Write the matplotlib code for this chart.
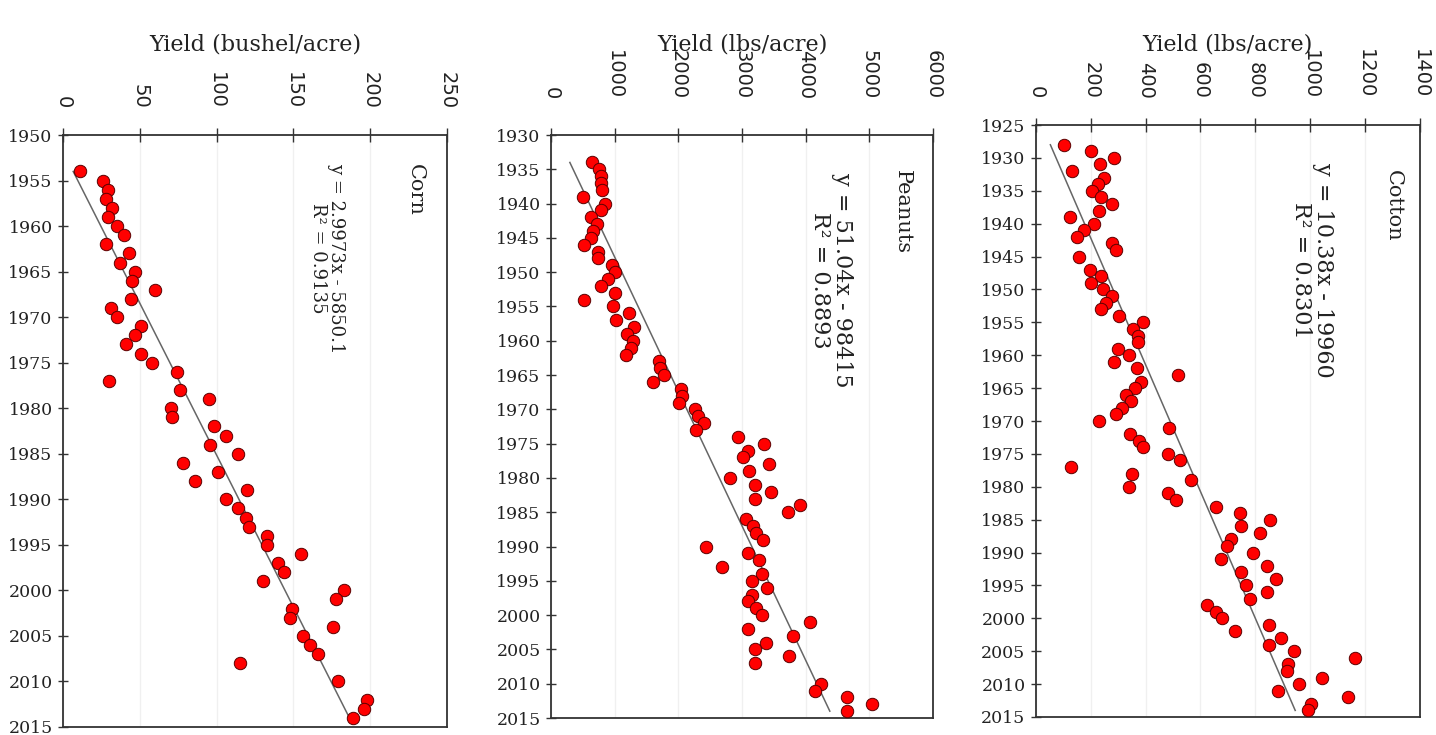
import numpy as np
import matplotlib
matplotlib.use("Agg")
from matplotlib import pyplot as plt
from matplotlib import transforms

# ---- data ----
corn_years = list(range(1954, 2009)) + [2010, 2012, 2013, 2014]
corn_yield = [11, 26, 29, 28, 32, 29, 35, 40, 28, 43, 37, 47, 45, 60, 44, 31, 35, 51, 47, 41,
              51, 58, 74, 30, 76, 95, 70, 71, 98, 106, 96, 114, 78, 101, 86, 120, 106, 114, 119, 121,
              133, 133, 155, 140, 144, 130, 183, 178, 149, 148, 176, 156, 161, 166, 115,
              179, 198, 196, 189]
corn_fit = (2.9973, -5850.1, 0.9135)

peanut_years = list(range(1934, 2008)) + [2010, 2011, 2012, 2013, 2014]
peanut_yield = [639, 759, 780, 780, 806, 508, 848, 785, 628, 717, 665, 628, 523, 733, 733, 963,
                1005, 900, 785, 1005, 523, 979, 1225, 1015, 1303, 1188, 1293, 1251, 1172, 1695,
                1711, 1774, 1596, 2036, 2051, 2015, 2261, 2313, 2402, 2276, 2941, 3344, 3098, 3019,
                3427, 3108, 2810, 3203, 3454, 3203, 3909, 3716, 3056, 3176, 3213, 3333, 2433, 3087,
                3270, 2679, 3307, 3150, 3396, 3160, 3087, 3218, 3317, 4066, 3087, 3804, 3370, 3207,
                3741, 3207,
                4234, 4144, 4657, 5050, 4657]
peanut_fit = (51.04, -98415, 0.8893)

cotton_years = list(range(1928, 1946)) + list(range(1947, 2015))
cotton_yield = [102, 200, 284, 233, 130, 248, 227, 205, 237, 276, 231, 124, 211, 176, 148, 278, 291, 157,
                197, 236, 200, 243, 276, 254, 236, 304, 391, 355, 373, 373, 298, 340, 284, 369, 519,
                383, 363, 327, 345, 312, 292, 231, 486, 343, 376, 391, 480, 525, 128, 351, 564, 340,
                480, 509, 655, 744, 853, 746, 817, 711, 695, 792, 674, 843, 747, 875, 765, 843, 780,
                625, 655, 677, 849, 725, 892, 849, 942, 1165, 920, 916, 1044, 959, 884, 1139, 1003, 993]
cotton_fit = (10.38, -19960, 0.8301)

panels = [
    dict(name="Corn", unit="Yield (bushel/acre)", years=corn_years, yld=corn_yield, fit=corn_fit,
         eq="y = 2.9973x - 5850.1\nR\u00b2 = 0.9135", xmax=250, xstep=50, y0=1950,
         rect=[0.0439, 0.0109, 0.2674, 0.8054], pad=14, eqsize=13, eqpos=(0.6875, 0.792),
         namepos=(0.917, 0.907)),
    dict(name="Peanuts", unit="Yield (lbs/acre)", years=peanut_years, yld=peanut_yield, fit=peanut_fit,
         eq="y = 51.04x - 98415\nR\u00b2 = 0.8893", xmax=6000, xstep=1000, y0=1930,
         rect=[0.3837, 0.0231, 0.2660, 0.7932], pad=21, eqsize=16, eqpos=(0.733, 0.751),
         namepos=(0.919, 0.868)),
    dict(name="Cotton", unit="Yield (lbs/acre)", years=cotton_years, yld=cotton_yield, fit=cotton_fit,
         eq="y = 10.38x - 19960\nR\u00b2 = 0.8301", xmax=1400, xstep=200, y0=1925,
         rect=[0.7214, 0.0245, 0.2674, 0.8054], pad=14, eqsize=16, eqpos=(0.719, 0.755),
         namepos=(0.93, 0.863)),
]

fig = plt.figure(figsize=(14.36, 7.35), dpi=100)
fig.patch.set_facecolor("white")

for p in panels:
    ax = fig.add_axes(p["rect"])
    yrs = np.array(p["years"])
    ax.scatter(p["yld"], yrs, s=80, color="#ff0000", edgecolors="#5a0000", linewidths=0.7, zorder=3)

    # trendline from the equation shown on the chart
    slope, icpt, r2 = p["fit"]
    ly = np.array([yrs.min(), yrs.max()])
    ax.plot(slope * ly + icpt, ly, color="#666666", lw=1.1, zorder=2)

    ax.set_xlim(0, p["xmax"])
    ax.set_ylim(2015, p["y0"])
    ax.set_xticks(np.arange(0, p["xmax"] + 1, p["xstep"]))
    ax.set_yticks(np.arange(p["y0"], 2016, 5))
    ax.xaxis.tick_top()
    ax.tick_params(axis="x", direction="inout", length=10, width=1.0, pad=p["pad"],
                   labelsize=14, labelrotation=-90, colors="#333333")
    ax.tick_params(axis="y", direction="inout", length=7, width=1.0, pad=4,
                   labelsize=12.5, colors="#333333")
    for lab in ax.get_xticklabels():
        lab.set_family("DejaVu Sans")
        lab.set_color("#222222")
    for lab in ax.get_yticklabels():
        lab.set_family("DejaVu Serif")
        lab.set_color("#222222")
    for sp in ax.spines.values():
        sp.set_color("#333333")
        sp.set_linewidth(1.3)
    ax.grid(axis="x", color="#f0f0f0", lw=1.0, zorder=0)

    ax.set_xlabel(p["unit"], family="DejaVu Serif", fontsize=16, color="#222222")
    ax.xaxis.set_label_position("top")
    ax.xaxis.label.set_va("center")
    ax.xaxis.set_label_coords(0.5, 1 - 45 / 735,
                              transform=transforms.blended_transform_factory(ax.transAxes, fig.transFigure))

    ax.text(*p["eqpos"], p["eq"], transform=ax.transAxes, rotation=-90, ha="center", va="center",
            multialignment="center", family="DejaVu Serif", fontsize=p["eqsize"], color="#222222",
            linespacing=1.0)
    ax.text(*p["namepos"], p["name"], transform=ax.transAxes, rotation=-90, ha="center", va="center",
            family="DejaVu Serif", fontsize=15, color="#222222")

fig.savefig("out.png", dpi=100, facecolor="white")
